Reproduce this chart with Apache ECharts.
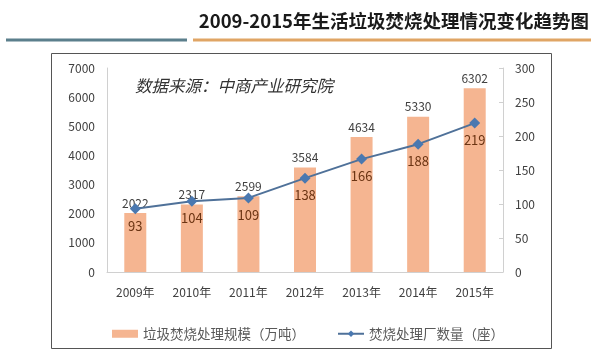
<!DOCTYPE html>
<html><head><meta charset="utf-8">
<script src="https://cdn.jsdelivr.net/npm/echarts@6/dist/echarts.min.js"></script>
<style>html,body{margin:0;padding:0;background:#fff}#c{width:600px;height:364px}</style>
</head><body><div id="c"></div>
<script>
const titleText = '2009-2015年生活垃圾焚烧处理情况变化趋势图';
const sourceText = '数据来源：中商产业研究院';
const categories = ['2009年','2010年','2011年','2012年','2013年','2014年','2015年'];
const scaleValues = [2022, 2317, 2599, 3584, 4634, 5330, 6302];
const plantCounts = [93, 104, 109, 138, 166, 188, 219];
const seriesNames = ['垃圾焚烧处理规模（万吨）', '焚烧处理厂数量（座）'];

const chart = echarts.init(document.getElementById('c'));
const font = '"Noto Sans CJK SC", "Noto Sans", sans-serif';
chart.setOption({
  backgroundColor: '#fff',
  textStyle: {fontFamily: font},
  title: {
    text: titleText, right: 6, top: 7,
    textStyle: {fontSize: 18.5, fontWeight: 'bold', color: '#1a1a1a', fontFamily: font}
  },
  graphic: [
    {type: 'line', shape: {x1: 6, y1: 40, x2: 187, y2: 40}, style: {stroke: '#5b7f8c', lineWidth: 3}},
    {type: 'line', shape: {x1: 193, y1: 40, x2: 591, y2: 40}, style: {stroke: '#e0a565', lineWidth: 3}},
    {type: 'rect', shape: {x: 51.5, y: 53.5, width: 500, height: 295}, style: {fill: 'none', stroke: '#555', lineWidth: 1}},
    {type: 'text', left: 135, top: 77, style: {text: sourceText, fill: '#333', font: 'italic 16.5px ' + font}}
  ],
  grid: {left: 107, right: 97, top: 68, bottom: 92},
  legend: {
    top: 322, left: 107, itemGap: 32, itemWidth: 26, itemHeight: 8,
    textStyle: {fontSize: 13.5, color: '#595959'},
    data: [{name: seriesNames[0], icon: 'rect'}, {name: seriesNames[1]}]
  },
  xAxis: {
    type: 'category', data: categories,
    axisLine: {lineStyle: {color: '#d0d0d0'}}, axisTick: {show: false},
    axisLabel: {fontSize: 12, color: '#404040', margin: 14}
  },
  yAxis: [
    {type: 'value', min: 0, max: 7000, interval: 1000,
     axisLine: {show: true, lineStyle: {color: '#d0d0d0'}}, axisTick: {show: false},
     splitLine: {show: false},
     axisLabel: {fontSize: 12, color: '#404040', margin: 12, formatter: v => String(v)}},
    {type: 'value', min: 0, max: 300, interval: 50,
     axisLine: {show: true, lineStyle: {color: '#d0d0d0'}},
     axisTick: {show: true, inside: true, length: 4, lineStyle: {color: '#d0d0d0'}},
     splitLine: {show: false},
     axisLabel: {fontSize: 12, color: '#404040', margin: 12, formatter: v => String(v)}}
  ],
  series: [
    {name: seriesNames[0], type: 'bar', data: scaleValues, barWidth: 22,
     itemStyle: {color: '#f5b591'},
     label: {show: true, position: 'top', fontSize: 12, color: '#404040', distance: 4}},
    {name: seriesNames[1], type: 'line', yAxisIndex: 1, data: plantCounts,
     symbol: 'diamond', symbolSize: 11,
     lineStyle: {color: '#4f7199', width: 2}, itemStyle: {color: '#4a78b0'},
     label: {show: true, position: 'bottom', fontSize: 13, color: '#6b3413', distance: 5}}
  ]
});
</script></body></html>
